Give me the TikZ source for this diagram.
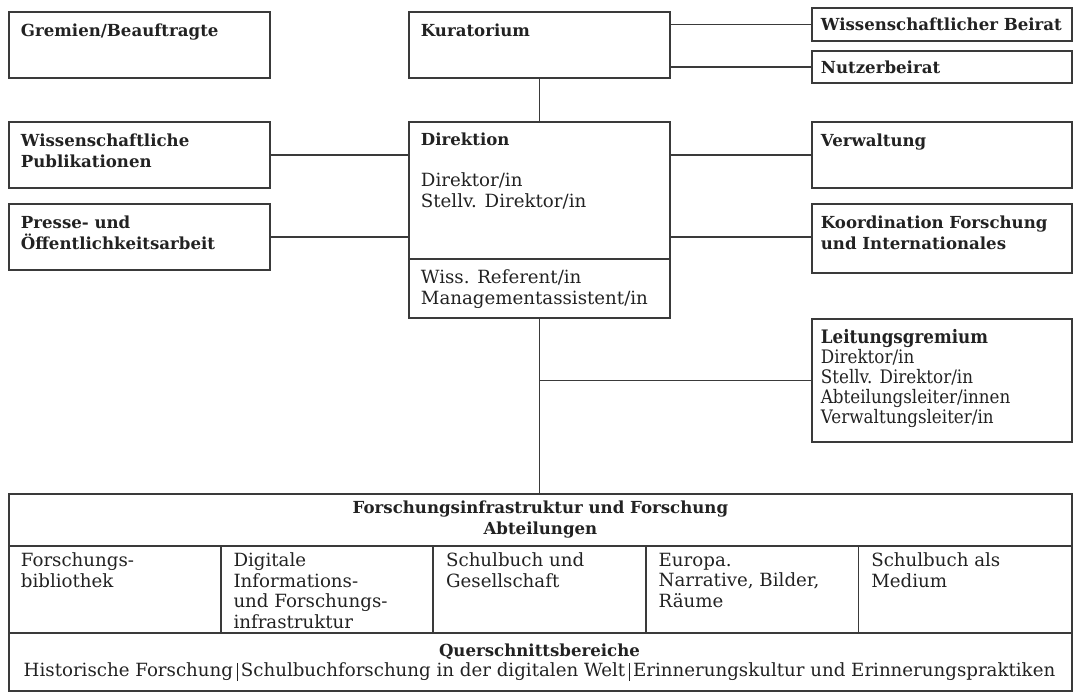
\documentclass[tikz,border=0pt]{standalone}
\usepackage{fontspec}
\setmainfont{DejaVu Serif}
\newfontfamily\condfont[FakeStretch=0.9]{DejaVu Serif}
\usetikzlibrary{calc}
\definecolor{linie}{HTML}{3A3A3A}
\definecolor{schrift}{HTML}{222222}
\newcommand\grund{\fontsize{18.2}{20.5}\selectfont}
\newcommand\kopf{\fontsize{16.6}{20.5}\selectfont\bfseries}
\newcommand\trenn{\hspace{3.5pt}\rule[-4.5pt]{0.9pt}{18pt}\hspace{3.5pt}}
\tikzset{
  box/.style={draw=linie, line width=1.8pt, anchor=north west, inner sep=0pt},
  txt/.style={anchor=north west, align=left, inner xsep=12pt, inner ysep=12pt, text=schrift, font=\grund},
  hd/.style={txt, font=\kopf},
}
\begin{document}
\begin{tikzpicture}[x=1pt, y=-1pt, line width=1.8pt]
\useasboundingbox (0,0) rectangle (1077,697);
% Kaesten
\foreach \n/\x/\y/\w/\h in {grem/8/11/261/66, kur/408/11/261/66, wb/811/7/260/33, nb/811/50/260/32,
  pub/8/121/261/66, pr/8/203/261/66, dir/408/121/261/196, verw/811/121/260/66,
  koord/811/203/260/69, leit/811/318/260/123, tab/8/493/1063/197}
  \node[box, minimum width=\w, minimum height=\h] (\n) at (\x,\y) {};
\path (dir.north west) ++(0,138) coordinate (dsp);
\path (tab.north west) ++(0,53) coordinate (r1) ++(0,87) coordinate (r2);
\draw[linie] (dsp) -- (dsp -| dir.east) (r1) -- (r1 -| tab.east) (r2) -- (r2 -| tab.east);
\foreach \k in {1,...,4}
  \draw[linie] ($(r1)+(212.6*\k,0)$) -- ($(r2)+(212.6*\k,0)$);
% Texte
\node[hd] (gremT) at (grem.north west) {Gremien/Beauftragte};
\node[hd] (kurT) at (kur.north west) {Kuratorium};
\node[hd, anchor=west, inner ysep=0pt, inner xsep=9pt] (wbT) at (wb.west) {Wissenschaftlicher Beirat};
\node[hd, anchor=west, inner ysep=0pt, inner xsep=9pt] (nbT) at (nb.west) {Nutzerbeirat};
\node[hd] (pubT) at (pub.north west) {Wissenschaftliche\\Publikationen};
\node[hd] (prT) at (pr.north west) {Presse- und\\Öffentlichkeitsarbeit};
\node[txt, inner ysep=11pt] (dirT) at (dir.north west) {{\kopf Direktion}\\[20.5pt]Direktor/in\\Stellv. Direktor/in};
\node[txt, inner ysep=10pt] (dirU) at (dsp) {Wiss. Referent/in\\Managementassistent/in};
\node[hd, inner xsep=9pt] (verwT) at (verw.north west) {Verwaltung};
\node[hd, inner xsep=9pt] (koordT) at (koord.north west) {Koordination Forschung\\und Internationales};
\node[txt, inner xsep=9pt, inner ysep=10pt, font=\fontsize{18.6}{20}\selectfont\condfont] (leitT) at (leit.north west)
  {\textbf{Leitungsgremium}\\Direktor/in\\Stellv. Direktor/in\\Abteilungsleiter/innen\\Verwaltungsleiter/in};
\node[hd, anchor=center, align=center] (tabT) at ($(tab.north)!.5!(r1 -| tab.north)$)
  {Forschungsinfrastruktur und Forschung\\Abteilungen};
\foreach \k/\t in {0/{Forschungs-\\bibliothek}, 1/{Digitale\\Informations-\\und Forschungs-\\infrastruktur},
  2/{Schulbuch und\\Gesellschaft}, 3/{Europa.\\Narrative, Bilder,\\Räume}, 4/{Schulbuch als\\Medium}}
  \node[txt, inner ysep=6pt] (abt\k) at ($(r1)+(212.6*\k,0)$) {\t};
\node[txt, anchor=center, align=center] (quer) at ($(r2)!.5!(tab.south west)+(531.5,0)$)
  {{\kopf Querschnittsbereiche}\\Historische Forschung\trenn Schulbuchforschung in der digitalen Welt\trenn Erinnerungskultur und Erinnerungspraktiken};
% Verbindungen
\draw[linie] (kur.east |- wb.west) -- (wb.west);
\draw[linie] (kur.east |- nb.west) -- (nb.west);
\draw[linie] (kur.south) -- (dir.north);
\draw[linie] (pub.east) -- (dir.west |- pub.east);
\draw[linie] (pr.east) -- (dir.west |- pr.east);
\draw[linie] (dir.east |- verw.west) -- (verw.west);
\draw[linie] (dir.east |- pr.east) -- (koord.west |- pr.east);
\draw[linie] (dir.south) -- (dir.south |- tab.north);
\draw[linie] (dir.south |- leit.west) -- (leit.west);
\end{tikzpicture}
\end{document}
